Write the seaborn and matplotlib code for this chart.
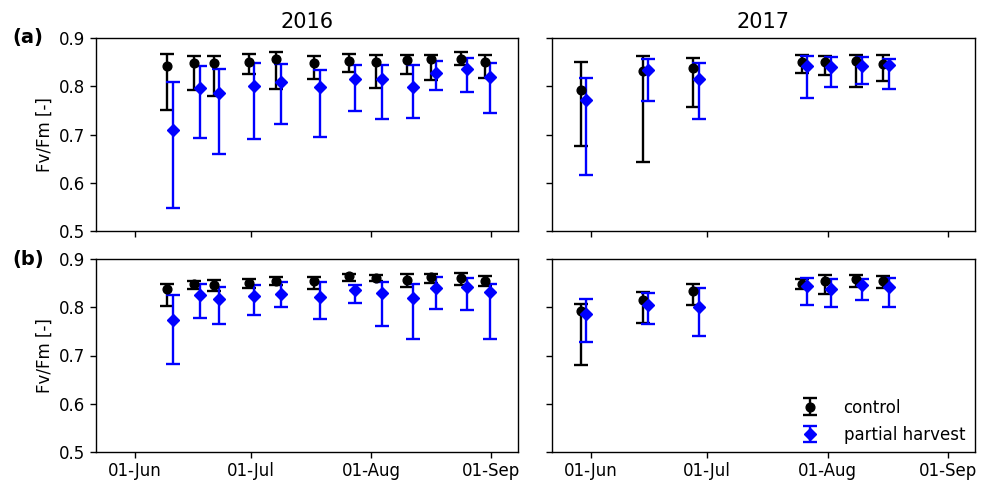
import numpy as np
import pandas as pd
import matplotlib
matplotlib.use("Agg")
import matplotlib.pyplot as plt
import matplotlib.dates as mdates
import seaborn as sns

# ---------------- data ----------------
dates_2016 = ["2016-06-10", "2016-06-17", "2016-06-22", "2016-07-01", "2016-07-08", "2016-07-18",
              "2016-07-27", "2016-08-03", "2016-08-11", "2016-08-17", "2016-08-25", "2016-08-31"]
dates_2017 = ["2017-05-30", "2017-06-15", "2017-06-28", "2017-07-26", "2017-08-01", "2017-08-09", "2017-08-16"]

# panel (a) 2016
a16_ctrl = [0.842, 0.848, 0.848, 0.851, 0.856, 0.848, 0.853, 0.851, 0.855, 0.856, 0.856, 0.851]
a16_ctrl_lo = [0.751, 0.792, 0.779, 0.825, 0.795, 0.816, 0.829, 0.796, 0.826, 0.812, 0.845, 0.817]
a16_ctrl_hi = [0.866, 0.863, 0.862, 0.867, 0.871, 0.863, 0.867, 0.864, 0.865, 0.865, 0.871, 0.865]
a16_ph = [0.710, 0.796, 0.785, 0.801, 0.808, 0.799, 0.815, 0.816, 0.799, 0.827, 0.836, 0.819]
a16_ph_lo = [0.547, 0.692, 0.660, 0.690, 0.721, 0.695, 0.749, 0.732, 0.734, 0.793, 0.788, 0.745]
a16_ph_hi = [0.809, 0.841, 0.835, 0.849, 0.847, 0.834, 0.844, 0.845, 0.844, 0.853, 0.858, 0.849]

# panel (a) 2017
a17_ctrl = [0.792, 0.832, 0.837, 0.850, 0.850, 0.853, 0.847]
a17_ctrl_lo = [0.677, 0.642, 0.758, 0.827, 0.823, 0.799, 0.810]
a17_ctrl_hi = [0.851, 0.862, 0.858, 0.864, 0.862, 0.864, 0.865]
a17_ph = [0.771, 0.833, 0.816, 0.841, 0.839, 0.842, 0.845]
a17_ph_lo = [0.616, 0.770, 0.732, 0.775, 0.799, 0.804, 0.794]
a17_ph_hi = [0.818, 0.856, 0.849, 0.862, 0.860, 0.860, 0.857]

# panel (b) 2016
b16_ctrl = [0.838, 0.848, 0.846, 0.850, 0.854, 0.854, 0.864, 0.860, 0.857, 0.862, 0.860, 0.854]
b16_ctrl_lo = [0.803, 0.838, 0.834, 0.840, 0.846, 0.838, 0.854, 0.854, 0.841, 0.851, 0.847, 0.845]
b16_ctrl_hi = [0.849, 0.854, 0.857, 0.859, 0.863, 0.862, 0.869, 0.866, 0.868, 0.869, 0.871, 0.864]
b16_ph = [0.773, 0.825, 0.818, 0.824, 0.828, 0.821, 0.836, 0.829, 0.819, 0.839, 0.842, 0.832]
b16_ph_lo = [0.683, 0.777, 0.765, 0.783, 0.801, 0.775, 0.809, 0.762, 0.734, 0.796, 0.795, 0.734]
b16_ph_hi = [0.825, 0.848, 0.843, 0.847, 0.853, 0.853, 0.847, 0.853, 0.849, 0.862, 0.860, 0.849]

# panel (b) 2017
b17_ctrl = [0.792, 0.816, 0.834, 0.849, 0.854, 0.858, 0.854]
b17_ctrl_lo = [0.681, 0.768, 0.804, 0.838, 0.827, 0.841, 0.840]
b17_ctrl_hi = [0.806, 0.832, 0.848, 0.858, 0.867, 0.866, 0.864]
b17_ph = [0.785, 0.805, 0.801, 0.844, 0.838, 0.846, 0.842]
b17_ph_lo = [0.729, 0.766, 0.740, 0.805, 0.800, 0.816, 0.800]
b17_ph_hi = [0.817, 0.830, 0.840, 0.861, 0.858, 0.859, 0.860]

years = ["2016", "2017"]
rows = ["(a)", "(b)"]
series_labels = ["control", "partial harvest"]

# ---------------- style ----------------
sns.set_style("ticks")
plt.rcParams["font.family"] = ["DejaVu Sans"]
plt.rcParams["text.color"] = "black"
plt.rcParams["axes.labelcolor"] = "black"
plt.rcParams["xtick.color"] = "black"
plt.rcParams["ytick.color"] = "black"
plt.rcParams["axes.edgecolor"] = "black"

fig = plt.figure(figsize=(9.82, 4.83), dpi=100)
L1, R1 = 96 / 982, 518 / 982
L2, R2 = 552 / 982, 975 / 982
TA, BA = 1 - 38 / 483, 1 - 231 / 483
TB, BB = 1 - 259 / 483, 1 - 452 / 483

boxes = {(0, 0): (L1, BA, R1 - L1, TA - BA), (0, 1): (L2, BA, R2 - L2, TA - BA),
         (1, 0): (L1, BB, R1 - L1, TB - BB), (1, 1): (L2, BB, R2 - L2, TB - BB)}

panel_data = {
    (0, 0): (dates_2016, (a16_ctrl, a16_ctrl_lo, a16_ctrl_hi), (a16_ph, a16_ph_lo, a16_ph_hi)),
    (0, 1): (dates_2017, (a17_ctrl, a17_ctrl_lo, a17_ctrl_hi), (a17_ph, a17_ph_lo, a17_ph_hi)),
    (1, 0): (dates_2016, (b16_ctrl, b16_ctrl_lo, b16_ctrl_hi), (b16_ph, b16_ph_lo, b16_ph_hi)),
    (1, 1): (dates_2017, (b17_ctrl, b17_ctrl_lo, b17_ctrl_hi), (b17_ph, b17_ph_lo, b17_ph_hi)),
}

styles = [dict(color="black", marker="o", ms=6.3, offset=-0.6),
          dict(color="blue", marker="D", ms=6, offset=0.8)]

for (r, c), box in boxes.items():
    ax = fig.add_axes(box)
    dts, ctrl, ph = panel_data[(r, c)]
    base = pd.to_datetime(dts)
    for (vals, lo, hi), st, lab in zip([ctrl, ph], styles, series_labels):
        x = base + pd.to_timedelta(st["offset"], unit="D")
        v = np.array(vals)
        yerr = np.vstack([v - np.array(lo), np.array(hi) - v])
        ax.errorbar(x, v, yerr=yerr, fmt=st["marker"], color=st["color"], ms=st["ms"],
                    elinewidth=1.7, capsize=5, capthick=1.7, label=lab, linestyle="none")
    yr = years[c]
    ax.set_xlim(pd.Timestamp(f"{yr}-05-22"), pd.Timestamp(f"{yr}-09-08"))
    ax.set_ylim(0.5, 0.9)
    ax.set_yticks([0.5, 0.6, 0.7, 0.8, 0.9])
    ax.set_xticks(pd.to_datetime([f"{yr}-06-01", f"{yr}-07-01", f"{yr}-08-01", f"{yr}-09-01"]))
    ax.xaxis.set_major_formatter(mdates.DateFormatter("%d-%b"))
    ax.tick_params(labelsize=12, length=4, width=1)
    for sp in ax.spines.values():
        sp.set_linewidth(1)
    if r == 0:
        ax.tick_params(labelbottom=False)
        ax.set_title(yr, fontsize=15, pad=7)
    if c == 0:
        ax.set_ylabel("Fv/Fm [-]", fontsize=12)
        ax.text(-0.197, 1.0, rows[r], transform=ax.transAxes, fontsize=14,
                fontweight="bold", ha="left", va="center")
    else:
        ax.tick_params(labelleft=False)
    if (r, c) == (1, 1):
        ax.legend(loc="lower right", frameon=False, fontsize=12, handletextpad=1.0,
                  labelspacing=0.55, bbox_to_anchor=(1.012, -0.035))

fig.savefig("out.png", dpi=100)
